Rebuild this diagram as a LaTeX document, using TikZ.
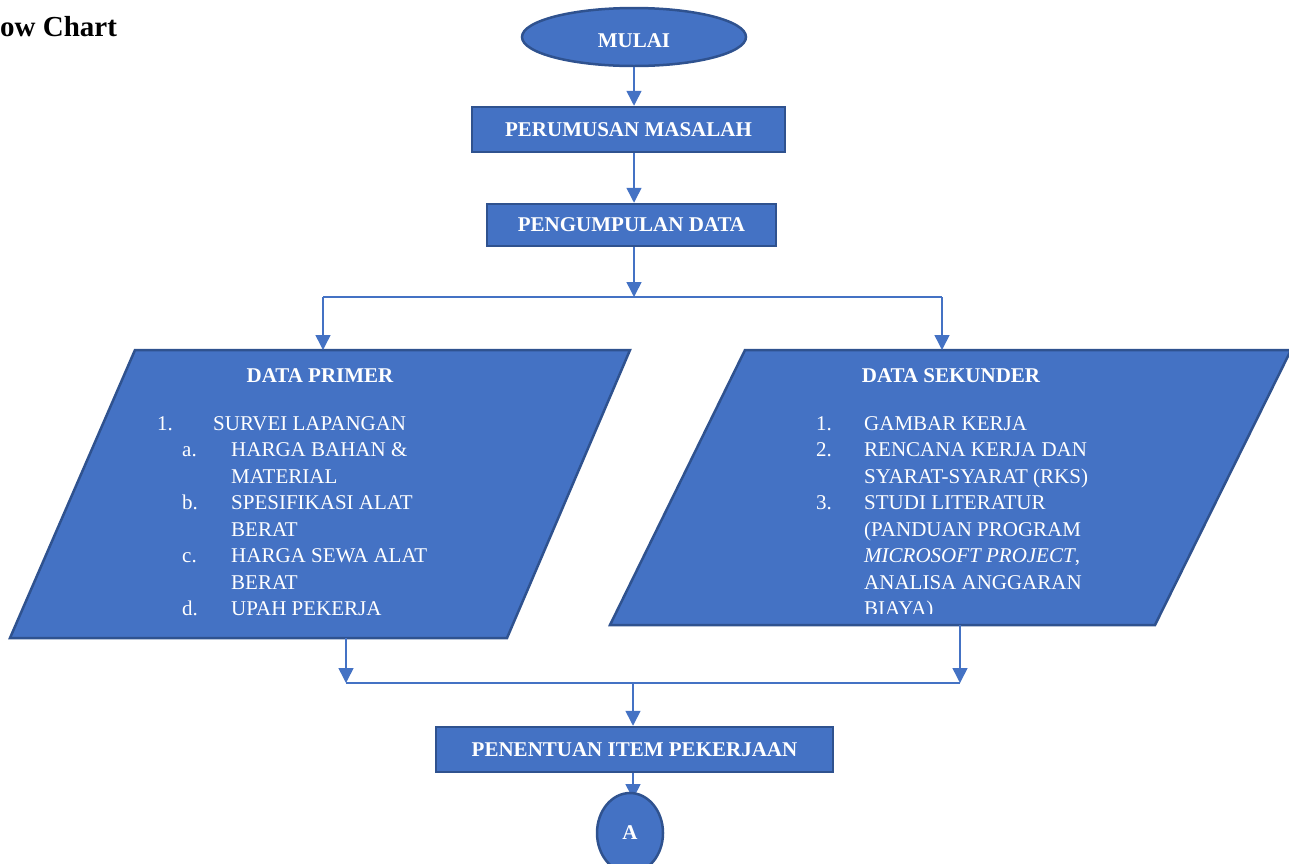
\documentclass[tikz,border=0pt]{standalone}
\usepackage{fontspec}
\setmainfont{Liberation Serif}
\usetikzlibrary{arrows.meta,shapes.geometric}
\definecolor{fillb}{HTML}{4472C4}
\definecolor{edgeb}{HTML}{2F528F}
\tikzset{
  shp/.style={fill=fillb,draw=edgeb,line width=2.5pt,text=white,font=\fontsize{21}{26.5}\selectfont\bfseries,inner sep=0pt},
  boxn/.style={shp,rectangle},
  conn/.style={draw=fillb,line width=1.5pt},
  arr/.style={conn,-{Triangle[width=15pt,length=15pt]}},
  lst/.style={text=white,font=\fontsize{21}{26.5}\selectfont,inner sep=0pt,anchor=base west},
}
\begin{document}
\begin{tikzpicture}[x=1pt,y=-1pt]
\useasboundingbox (0,0) rectangle (1289,863);
\node[anchor=base west,inner sep=0pt,font=\fontsize{29}{32}\selectfont\bfseries] (ttl) at (0,36) {ow Chart};

\node[shp,ellipse,minimum width=224pt,minimum height=58pt] (mulai) at (634,37) {\raisebox{-10pt}[0pt][0pt]{MULAI}};
\node[boxn,minimum width=313pt,minimum height=45pt] (pm) at (628.5,129.5) {PERUMUSAN MASALAH};
\node[boxn,minimum width=289pt,minimum height=42pt] (pd) at (631.5,225) {PENGUMPULAN DATA};

% parallelograms
\draw[fill=fillb,draw=edgeb,line width=2.5pt] (135,350) -- (630,350) -- (507,638) -- (10,638) -- cycle;
\draw[fill=fillb,draw=edgeb,line width=2.5pt] (745,350) -- (1291,350) -- (1155,625) -- (610,625) -- cycle;
\coordinate (dptop) at (323,350);
\coordinate (dstop) at (942,350);
\coordinate (dpbot) at (346,638);
\coordinate (dsbot) at (960,625);

\node[anchor=base,inner sep=0pt,text=white,font=\fontsize{21}{26.5}\selectfont\bfseries] (dpt) at (320,382) {DATA PRIMER};
\node[anchor=base,inner sep=0pt,text=white,font=\fontsize{21}{26.5}\selectfont\bfseries] (dst) at (951,382) {DATA SEKUNDER};

\node[lst] (dpl) at (157,430) {\begin{tabular}[t]{@{}l@{}}
\makebox[56pt][l]{1.}SURVEI LAPANGAN\\
\hspace*{25pt}\makebox[49pt][l]{a.}HARGA BAHAN \&\\
\hspace*{74pt}MATERIAL\\
\hspace*{25pt}\makebox[49pt][l]{b.}SPESIFIKASI ALAT\\
\hspace*{74pt}BERAT\\
\hspace*{25pt}\makebox[49pt][l]{c.}HARGA SEWA ALAT\\
\hspace*{74pt}BERAT\\
\hspace*{25pt}\makebox[49pt][l]{d.}UPAH PEKERJA
\end{tabular}};

\begin{scope}
\clip (600,400) rectangle (1289,613);
\node[lst] (dsl) at (816,430) {\begin{tabular}[t]{@{}l@{}}
\makebox[48pt][l]{1.}GAMBAR KERJA\\
\makebox[48pt][l]{2.}RENCANA KERJA DAN\\
\hspace*{48pt}SYARAT-SYARAT (RKS)\\
\makebox[48pt][l]{3.}STUDI LITERATUR\\
\hspace*{48pt}(PANDUAN PROGRAM\\
\hspace*{48pt}\textit{MICROSOFT PROJECT},\\
\hspace*{48pt}ANALISA ANGGARAN\\
\hspace*{48pt}BIAYA)
\end{tabular}};
\end{scope}

\node[boxn,minimum width=397pt,minimum height=45pt] (pi) at (634.5,749.5) {PENENTUAN ITEM PEKERJAAN};

% connectors
\coordinate (cx) at (634,0);
\coordinate (cy) at (633,0);
\coordinate (j1) at (634,297);
\coordinate (j2) at (633,683);
\coordinate (jl) at (346,683);
\coordinate (jr) at (960,683);
\coordinate (atop) at (633,799);
\draw[arr] (mulai.south) -- (cx |- pm.north);
\draw[arr] (cx |- pm.south) -- (cx |- pd.north);
\draw[arr] (cx |- pd.south) -- (j1);
\draw[conn] (dptop |- j1) -- (dstop |- j1);
\draw[arr] (dptop |- j1) -- (dptop);
\draw[arr] (dstop |- j1) -- (dstop);
\draw[arr] (dpbot) -- (jl);
\draw[arr] (dsbot) -- (jr);
\draw[conn] (jl) -- (jr);
\draw[arr] (j2) -- (cy |- pi.north);
\draw[arr] (cy |- pi.south) -- (atop);
\node[shp,ellipse,minimum width=66pt,minimum height=80pt] (a) at (630,833) {A};
\end{tikzpicture}
\end{document}
